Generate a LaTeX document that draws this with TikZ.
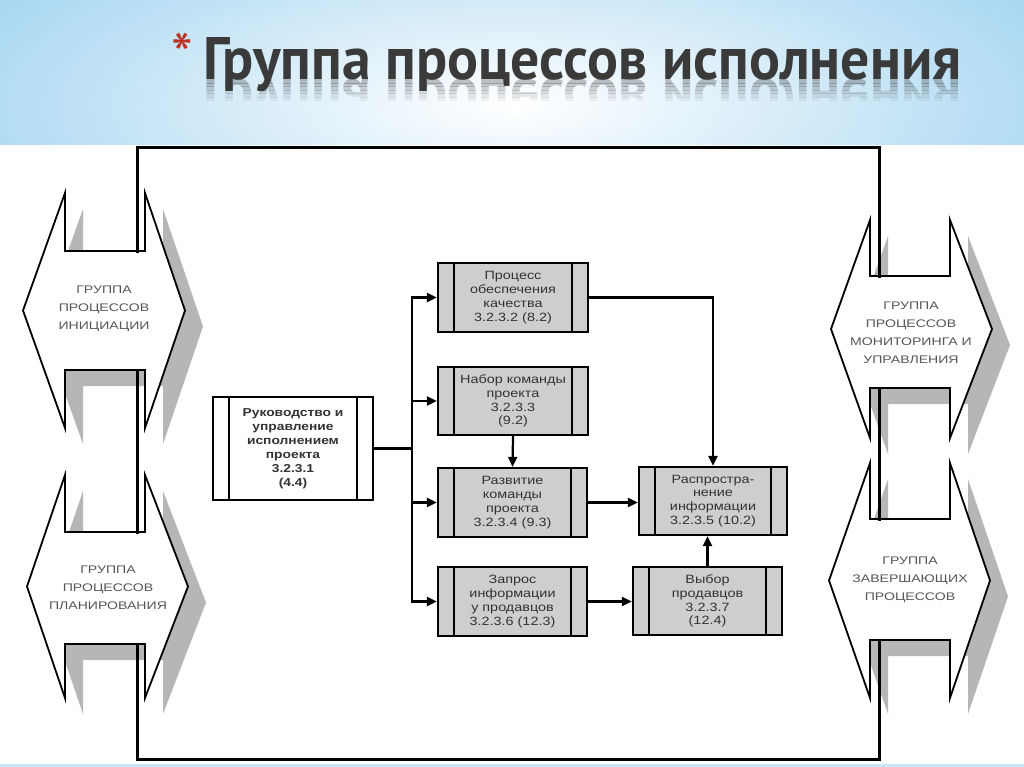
\documentclass[tikz,border=0pt]{standalone}
\usepackage{fontspec}
\setmainfont{Liberation Sans}
\newfontfamily\boxfont[FakeStretch=1.2]{Liberation Sans}
\newfontfamily\grpfont[FakeStretch=1.28]{Liberation Sans}
\newfontfamily\titlefont{PT Sans}
\usetikzlibrary{arrows.meta,calc}
\definecolor{skyblue}{RGB}{158,210,240}
\definecolor{boxgray}{RGB}{206,206,206}
\definecolor{shadowgray}{RGB}{182,182,182}
\definecolor{titlegray}{RGB}{58,58,58}
\definecolor{astred}{RGB}{190,50,35}
\definecolor{textgray}{RGB}{85,85,85}
\newcommand{\grpshape}[8]{%
  \fill[shadowgray, shift={(18,16)}] (#1,#5) -- (#1,#6) -- (#2,#6) -- (#2,#5) -- (#4,{(#5+#8)/2}) -- (#2,#8) -- (#2,#7) -- (#1,#7) -- (#1,#8) -- (#3,{(#5+#8)/2}) -- cycle;
  \filldraw[grpline] (#1,#5) -- (#1,#6) -- (#2,#6) -- (#2,#5) -- (#4,{(#5+#8)/2}) -- (#2,#8) -- (#2,#7) -- (#1,#7) -- (#1,#8) -- (#3,{(#5+#8)/2}) -- cycle;
}
\begin{document}
\begin{tikzpicture}[x=1pt,y=-1pt,
  grpline/.style={fill=white, draw=black, line width=1.8pt, line join=miter},
  grptext/.style={align=center, inner sep=0pt, text=textgray, font=\grpfont\fontsize{11}{18}\selectfont},
  frame/.style={line width=3pt, black, line cap=rect},
  procbox/.style={draw, line width=2.2pt, fill=boxgray, minimum width=150pt, minimum height=69pt,
    inner sep=0pt, align=center, text=black!80, font=\boxfont\fontsize{12}{13.8}\selectfont,
    path picture={
      \draw[line width=2pt] ([xshift=16pt]path picture bounding box.north west) -- ([xshift=16pt]path picture bounding box.south west);
      \draw[line width=2pt] ([xshift=-16pt]path picture bounding box.north east) -- ([xshift=-16pt]path picture bounding box.south east);
    }},
  conn/.style={line width=2.2pt, -{Triangle[length=10pt,width=9pt]}},
  plainconn/.style={line width=2.2pt}]
\useasboundingbox (0,0) rectangle (1024,767);
% background
\fill[white] (0,0) rectangle (1024,767);
\begin{scope}
  \clip (0,0) rectangle (1024,145);
  \shade[inner color=white, outer color=skyblue] (-150,-120) rectangle (1174,330);
\end{scope}
\fill[skyblue!55] (0,764) rectangle (1024,767);
% title reflection
\foreach \i in {0,...,5} {
  \begin{scope}
    \clip (150,{80+3.5*\i}) rectangle (1000,{83.5+3.5*\i});
    \node[anchor=base west, inner sep=0pt, text=titlegray, opacity={0.30-0.048*\i}] (refl\i) at (203,80)
      {\titlefont\bfseries\scalebox{1}[-1]{\resizebox{758pt}{42pt}{Группа процессов исполнения}}};
  \end{scope}
}
% title
\node[anchor=base west, inner sep=0pt, text=titlegray] (title) at (203,80)
  {\titlefont\bfseries\resizebox{758pt}{42pt}{Группа процессов исполнения}};
\node[text=astred, inner sep=0pt, font=\titlefont\fontsize{62}{62}\selectfont] (ast) at (182,55) {*};
% group shapes
\grpshape{65}{145}{23}{185}{193}{251}{370}{428}
\grpshape{65}{145}{27}{188}{475}{532}{644}{698}
\grpshape{870}{950}{831}{992}{220}{276}{388}{438}
\grpshape{870}{950}{829}{990}{463}{519}{640}{698}
% frame
\draw[frame] (137,251) -- (137,148) -- (879,148) -- (879,276);
\draw[frame] (137,370) -- (137,532);
\draw[frame] (879,388) -- (879,519);
\draw[frame] (137,644) -- (137,759) -- (879,759) -- (879,640);
% group texts
\node[grptext] (gi) at (104,309) {ГРУППА\\ПРОЦЕССОВ\\ИНИЦИАЦИИ};
\node[grptext] (gp) at (108,588) {ГРУППА\\ПРОЦЕССОВ\\ПЛАНИРОВАНИЯ};
\node[grptext] (gm) at (911,333) {ГРУППА\\ПРОЦЕССОВ\\МОНИТОРИНГА И\\УПРАВЛЕНИЯ};
\node[grptext] (gc) at (910,580) {ГРУППА\\ЗАВЕРШАЮЩИХ\\ПРОЦЕССОВ};
% process boxes
\node[procbox, fill=white, minimum width=160pt, minimum height=103pt, font=\boxfont\bfseries\fontsize{11.5}{14}\selectfont] (b1) at (293,448.5)
  {Руководство и\\управление\\исполнением\\проекта\\3.2.3.1\\(4.4)};
\node[procbox] (b2) at (513,297.5) {Процесс\\обеспечения\\качества\\3.2.3.2 (8.2)};
\node[procbox, minimum height=68pt] (b3) at (513,401) {Набор команды\\проекта\\3.2.3.3\\(9.2)};
\node[procbox, minimum width=149pt] (b4) at (512.5,502.5) {Развитие\\команды\\проекта\\3.2.3.4 (9.3)};
\node[procbox, minimum width=148pt, minimum height=68pt] (b5) at (713,501) {Распростра-\\нение\\информации\\3.2.3.5 (10.2)};
\node[procbox, minimum width=149pt] (b6) at (512.5,601.5) {Запрос\\информации\\у продавцов\\3.2.3.6 (12.3)};
\node[procbox, minimum width=149pt, minimum height=68pt] (b7) at (707.5,601) {Выбор\\продавцов\\3.2.3.7\\(12.4)};
% connectors
\coordinate (t) at (412,448.5);
\draw[plainconn] (b1.east) -- (t);
\draw[conn] (t) |- (b2.west);
\draw[conn] (t) |- (b3.west);
\draw[conn] (t) |- (b4.west);
\draw[conn] (t) |- (b6.west);
\draw[conn] (b3.south) -- (b4.north);
\draw[conn] (b2.east) -| (b5.north);
\draw[conn] (b4.east) -- (b4.east -| b5.west);
\draw[conn] (b6.east) -- (b6.east -| b7.west);
\draw[conn] (b7.north) -- (b7.north |- b5.south);
\end{tikzpicture}
\end{document}
